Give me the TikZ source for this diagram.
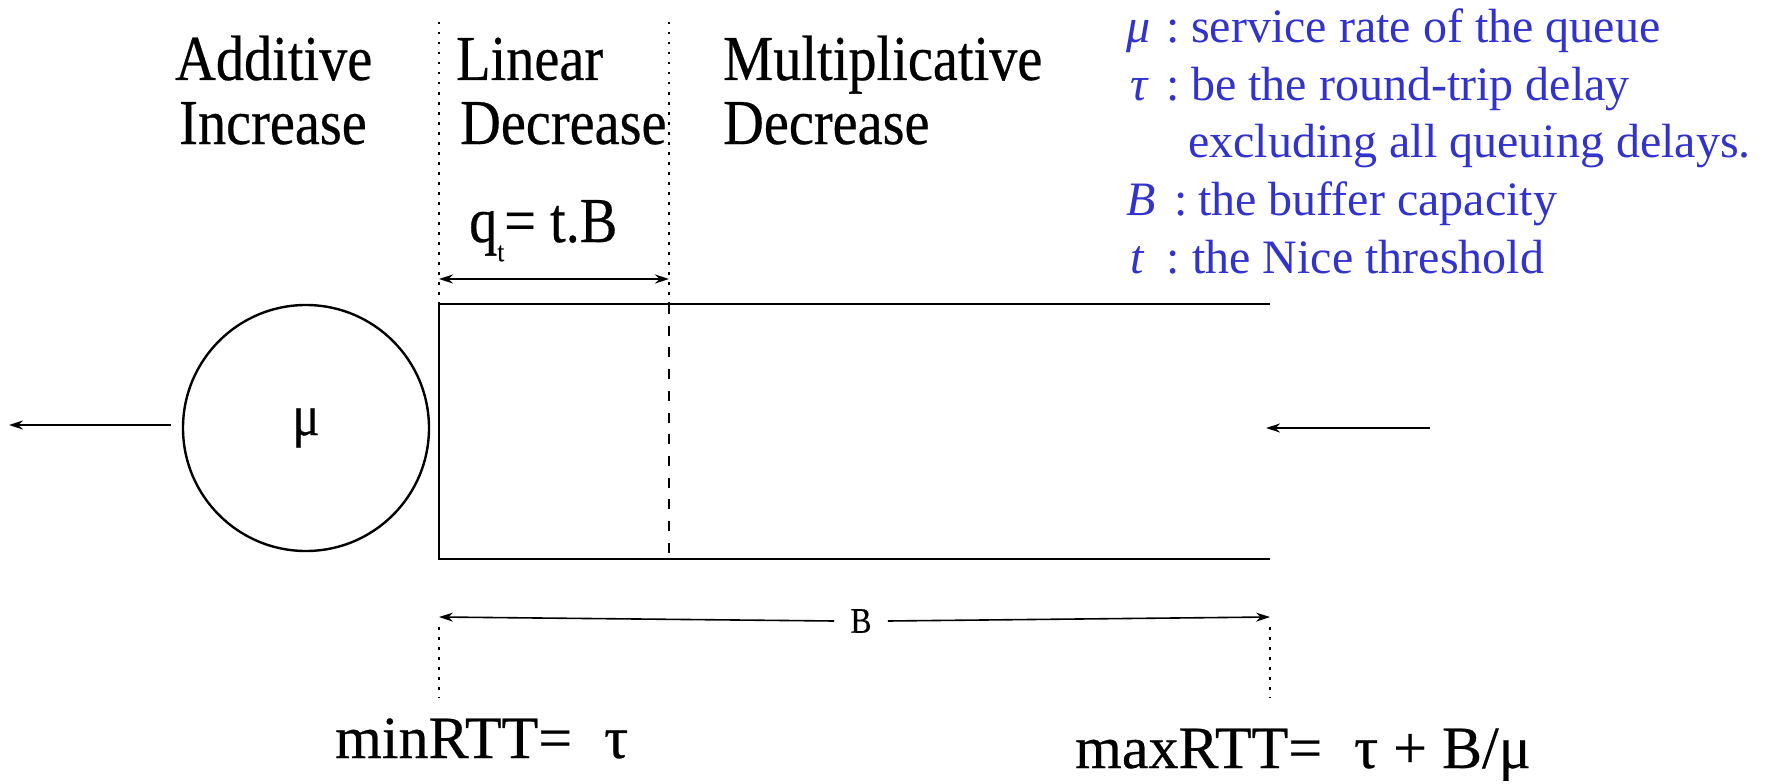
\documentclass[tikz,border=0pt]{standalone}
\usepackage{fontspec}
\setmainfont{Liberation Serif}
\newfontfamily\blkfont[FakeStretch=0.88,FakeBold=0.4]{Liberation Serif}
\newfontfamily\rttfont[FakeBold=0.4]{Liberation Serif}
\usetikzlibrary{arrows.meta}
\definecolor{legblue}{RGB}{50,50,205}
\begin{document}
\begin{tikzpicture}[x=1pt,y=-1pt,
  lbl/.style={anchor=base west,inner sep=0pt,font=\blkfont\fontsize{64}{70}\selectfont},
  rtt/.style={anchor=base west,inner sep=0pt,font=\rttfont\fontsize{60}{66}\selectfont},
  leg/.style={anchor=base west,inner sep=0pt,text=legblue,font=\fontsize{48}{56}\selectfont},
  thick line/.style={line width=2.8pt},
  dotline/.style={line width=2pt,dash pattern=on 2.5pt off 7.5pt},
  dashline/.style={line width=2.4pt,dash pattern=on 10pt off 11.7pt},
  arr/.style={line width=1.6pt,-{Stealth[length=14pt,width=9pt]}},
  dimarr/.style={line width=1.6pt,{Stealth[length=14pt,width=9pt]}-{Stealth[length=14pt,width=9pt]}}]
\useasboundingbox (0,0) rectangle (1765,784);
% header labels
\node[lbl] (ai1) at (175,80) {Additive};
\node[lbl] (ai2) at (179,144) {Increase};
\node[lbl] (ld1) at (456,80) {Linear};
\node[lbl] (ld2) at (460,144) {Decrease};
\node[lbl] (md1) at (723,80) {Multiplicative};
\node[lbl] (md2) at (723,144) {Decrease};
\node[lbl] (qt) at (469,242) {q\raisebox{-0.3em}{\fontsize{28}{30}\selectfont t}= t.B};
% coordinates of the buffer
\coordinate (tl) at (439,304);
\coordinate (bl) at (439,559);
\coordinate (tr) at (1270,304);
\coordinate (br) at (1270,559);
\coordinate (tm) at (669,304);
\coordinate (bm) at (669,559);
\coordinate (dlt) at (439,22);
\coordinate (drt) at (669,22);
\coordinate (qa) at (439,279);
\coordinate (qb) at (669,279);
% dotted separators
\draw[dotline] (dlt) -- (tl);
\draw[dotline] (drt) -- (tm);
% q_t arrow
\draw[dimarr] (qa) -- (qb);
% buffer
\draw[thick line] (tr) -- (tl) -- (bl) -- (br);
\draw[dashline] (tm) -- (bm);
% server
\node[circle,draw,line width=2.4pt,minimum size=246pt,inner sep=0pt,font=\blkfont\fontsize{58}{62}\selectfont] (srv) at (306,428) {μ};
\coordinate (outs) at (171,425);
\coordinate (oute) at (9,425);
\draw[arr] (outs) -- (oute);
\coordinate (ins) at (1430,428);
\coordinate (ine) at (1266,428);
\draw[arr] (ins) -- (ine);
% B dimension
\coordinate (ba) at (439,617);
\coordinate (bb) at (1270,617);
\node[inner xsep=16pt,inner ysep=5pt,fill=white,font=\blkfont\fontsize{36}{40}\selectfont] (blab) at (861,621) {B};
\draw[line width=1.6pt,-{Stealth[length=14pt,width=9pt]}] (blab.west) -- (ba);
\draw[line width=1.6pt,-{Stealth[length=14pt,width=9pt]}] (blab.east) -- (bb);
\coordinate (la) at (439,627);
\coordinate (lb) at (439,698);
\coordinate (ra) at (1270,627);
\coordinate (rb) at (1270,698);
\draw[dotline] (la) -- (lb);
\draw[dotline] (ra) -- (rb);
% RTT labels
\node[rtt] (minr) at (335,758) {minRTT=\hspace{32pt}τ};
\node[rtt] (maxr) at (1075,768) {maxRTT=\hspace{32pt}τ + B/μ};
% legend
\node[leg] (l1a) at (1126,43) {\textit{μ}};
\node[leg] (l1c) at (1166,43) {:};
\node[leg] (l1b) at (1191,43) {service rate of the queue};
\node[leg] (l2a) at (1130,100) {\textit{τ}};
\node[leg] (l2c) at (1166,100) {:};
\node[leg] (l2b) at (1191,100) {be the round-trip delay};
\node[leg] (l3b) at (1188,157) {excluding all queuing delays.};
\node[leg] (l4a) at (1126,215) {\textit{B}};
\node[leg] (l4c) at (1174,215) {:};
\node[leg] (l4b) at (1198,215) {the buffer capacity};
\node[leg] (l5a) at (1130,273) {\textit{t}};
\node[leg] (l5c) at (1166,273) {:};
\node[leg] (l5b) at (1192,273) {the Nice threshold};
\end{tikzpicture}
\end{document}
